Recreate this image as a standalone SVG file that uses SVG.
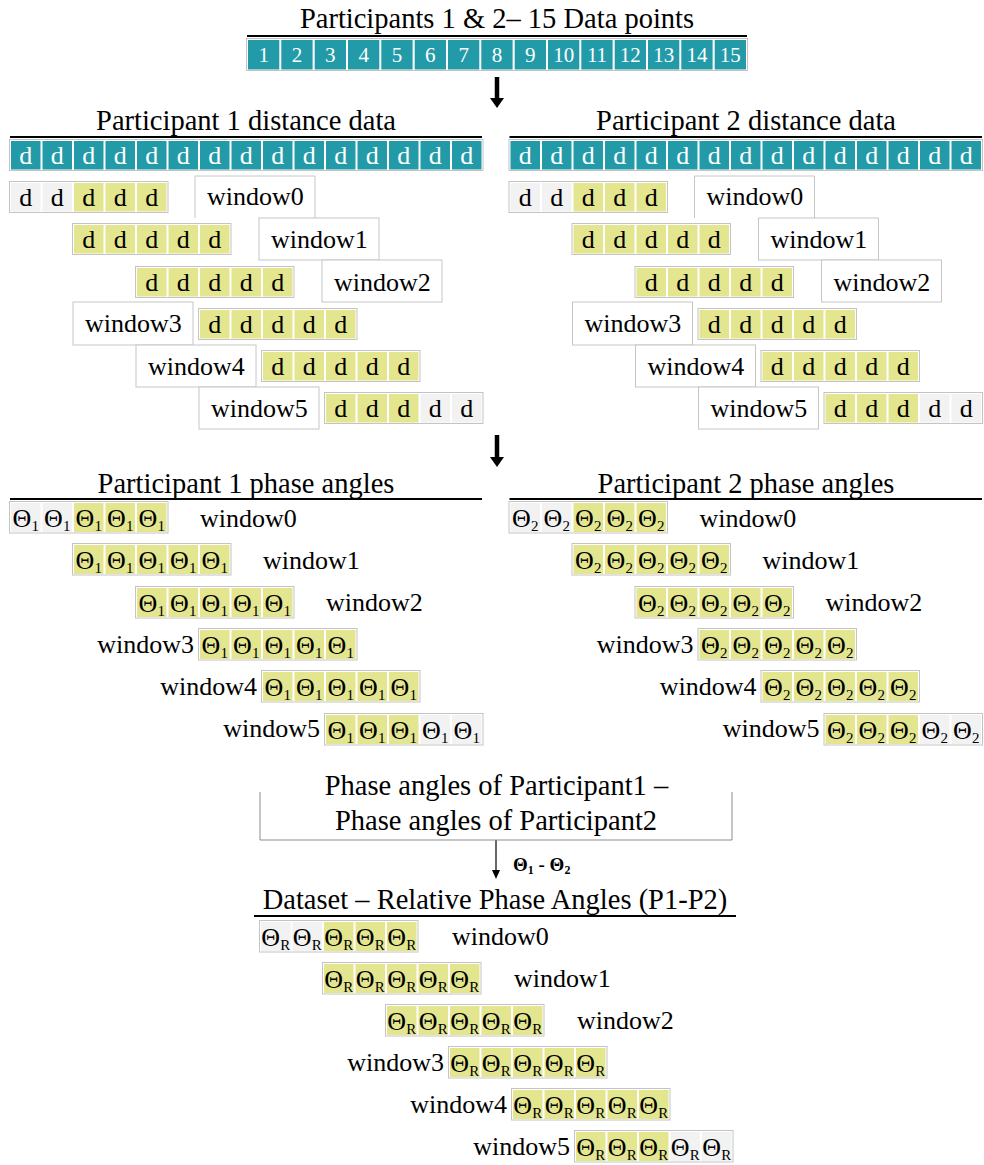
<svg xmlns="http://www.w3.org/2000/svg" width="984" height="1165" viewBox="0 0 984 1165">
<style>
text{font-family:"Liberation Serif","Times New Roman",serif;fill:#000}
.tt{font-size:28.5px;text-anchor:middle}
.lb{font-size:26px}
.le{font-size:26px;text-anchor:end}
.cd{font-size:26px;text-anchor:middle}
.cw{font-size:26px;text-anchor:middle;fill:#fff}
.cn{font-size:21px;text-anchor:middle;fill:#fff}
.th{font-size:26px;text-anchor:middle}
.sb{font-size:15px}
.eq{font-size:19px;font-weight:bold}
.eqs{font-size:12px}
.row{fill:#fff;stroke:#c4c4c4;stroke-width:1}
.y{fill:#e3e68f}
.g{fill:#f2f2f2}
.t{fill:#229aa8}
.wb{fill:#fff;stroke:#c6c6c6;stroke-width:1}
.ul{stroke:#000;stroke-width:2}
.br{fill:none;stroke:#8c8c8c;stroke-width:1}
</style>
<defs>
<marker id="ah" markerUnits="userSpaceOnUse" markerWidth="14" markerHeight="14" viewBox="0 0 10 14" refX="0" refY="7" orient="auto"><path d="M0,0 L10,7 L0,14 z" fill="#000"/></marker>
<marker id="ah2" markerUnits="userSpaceOnUse" markerWidth="9" markerHeight="8" viewBox="0 0 9 8" refX="0" refY="4" orient="auto"><path d="M0,0 L9,4 L0,8 z" fill="#000"/></marker>
</defs>

<g id="header">
<text class="tt" x="497" y="28">Participants 1 &amp; 2– 15 Data points</text>
<line class="ul" x1="247" y1="36" x2="747" y2="36"/>
<rect class="row" x="246.5" y="38.5" width="501" height="32"/>
<rect class="t" x="248" y="40" width="31.3" height="29.5"/><rect class="t" x="281.3" y="40" width="31.3" height="29.5"/><rect class="t" x="314.7" y="40" width="31.3" height="29.5"/><rect class="t" x="348" y="40" width="31.3" height="29.5"/><rect class="t" x="381.3" y="40" width="31.3" height="29.5"/><rect class="t" x="414.7" y="40" width="31.3" height="29.5"/><rect class="t" x="448" y="40" width="31.3" height="29.5"/><rect class="t" x="481.3" y="40" width="31.3" height="29.5"/><rect class="t" x="514.7" y="40" width="31.3" height="29.5"/><rect class="t" x="548" y="40" width="31.3" height="29.5"/><rect class="t" x="581.3" y="40" width="31.3" height="29.5"/><rect class="t" x="614.7" y="40" width="31.3" height="29.5"/><rect class="t" x="648" y="40" width="31.3" height="29.5"/><rect class="t" x="681.3" y="40" width="31.3" height="29.5"/><rect class="t" x="714.7" y="40" width="31.3" height="29.5"/>
<text class="cn" x="263.67" y="62">1</text><text class="cn" x="297" y="62">2</text><text class="cn" x="330.33" y="62">3</text><text class="cn" x="363.67" y="62">4</text><text class="cn" x="397" y="62">5</text><text class="cn" x="430.33" y="62">6</text><text class="cn" x="463.67" y="62">7</text><text class="cn" x="497" y="62">8</text><text class="cn" x="530.33" y="62">9</text><text class="cn" x="563.67" y="62">10</text><text class="cn" x="597" y="62">11</text><text class="cn" x="630.33" y="62">12</text><text class="cn" x="663.67" y="62">13</text><text class="cn" x="697" y="62">14</text><text class="cn" x="730.33" y="62">15</text>
</g>

<g id="connectors">
<line x1="497" y1="77" x2="497" y2="98" stroke="#000" stroke-width="4.5" marker-end="url(#ah)"/>
<line x1="497" y1="435" x2="497" y2="457" stroke="#000" stroke-width="4.5" marker-end="url(#ah)"/>
<line x1="496" y1="840" x2="496" y2="870" stroke="#000" stroke-width="1.2" marker-end="url(#ah2)"/>
<text class="eq" x="513" y="871">Θ<tspan class="eqs" dy="3">1</tspan><tspan dy="-3"> - Θ</tspan><tspan class="eqs" dy="3">2</tspan></text>
</g>

<!-- Participant 1 distance data -->
<g id="p1-distance">
<text class="tt" x="246" y="130">Participant 1 distance data</text>
<line class="ul" x1="10" y1="137" x2="482" y2="137"/>
<g transform="translate(10,140)">
<rect class="row" x="-0.5" y="-0.5" width="473.5" height="31"/>
<rect class="t" x="1" y="1" width="29.5" height="28.5"/><rect class="t" x="32.5" y="1" width="29.5" height="28.5"/><rect class="t" x="64" y="1" width="29.5" height="28.5"/><rect class="t" x="95.5" y="1" width="29.5" height="28.5"/><rect class="t" x="127" y="1" width="29.5" height="28.5"/><rect class="t" x="158.5" y="1" width="29.5" height="28.5"/><rect class="t" x="190" y="1" width="29.5" height="28.5"/><rect class="t" x="221.5" y="1" width="29.5" height="28.5"/><rect class="t" x="253" y="1" width="29.5" height="28.5"/><rect class="t" x="284.5" y="1" width="29.5" height="28.5"/><rect class="t" x="316" y="1" width="29.5" height="28.5"/><rect class="t" x="347.5" y="1" width="29.5" height="28.5"/><rect class="t" x="379" y="1" width="29.5" height="28.5"/><rect class="t" x="410.5" y="1" width="29.5" height="28.5"/><rect class="t" x="442" y="1" width="29.5" height="28.5"/>
<text class="cw" x="15.75" y="24">d</text><text class="cw" x="47.25" y="24">d</text><text class="cw" x="78.75" y="24">d</text><text class="cw" x="110.25" y="24">d</text><text class="cw" x="141.75" y="24">d</text><text class="cw" x="173.25" y="24">d</text><text class="cw" x="204.75" y="24">d</text><text class="cw" x="236.25" y="24">d</text><text class="cw" x="267.75" y="24">d</text><text class="cw" x="299.25" y="24">d</text><text class="cw" x="330.75" y="24">d</text><text class="cw" x="362.25" y="24">d</text><text class="cw" x="393.75" y="24">d</text><text class="cw" x="425.25" y="24">d</text><text class="cw" x="456.75" y="24">d</text>
</g>
<path class="wb" d="M195,218 V176 H315 V218"/>
<rect class="wb" x="259" y="218" width="120" height="42"/>
<rect class="wb" x="322" y="260" width="120" height="42"/>
<rect class="wb" x="73" y="302" width="120" height="43"/>
<rect class="wb" x="136" y="345" width="120" height="42"/>
<rect class="wb" x="199" y="387" width="120" height="42"/>
<text class="lb" x="207" y="205">window0</text>
<text class="lb" x="271" y="248">window1</text>
<text class="lb" x="334" y="291">window2</text>
<text class="lb" x="85" y="332">window3</text>
<text class="lb" x="148" y="375">window4</text>
<text class="lb" x="211" y="417">window5</text>
<g transform="translate(10,182)"><rect class="row" x="-0.5" y="-0.5" width="158.5" height="31"/><rect class="g" x="1" y="1" width="29.5" height="28.5"/><rect class="g" x="32.5" y="1" width="29.5" height="28.5"/><rect class="y" x="64" y="1" width="29.5" height="28.5"/><rect class="y" x="95.5" y="1" width="29.5" height="28.5"/><rect class="y" x="127" y="1" width="29.5" height="28.5"/><text class="cd" x="15.75" y="24">d</text><text class="cd" x="47.25" y="24">d</text><text class="cd" x="78.75" y="24">d</text><text class="cd" x="110.25" y="24">d</text><text class="cd" x="141.75" y="24">d</text></g>
<g transform="translate(73,224)"><rect class="row" x="-0.5" y="-0.5" width="158.5" height="31"/><rect class="y" x="1" y="1" width="29.5" height="28.5"/><rect class="y" x="32.5" y="1" width="29.5" height="28.5"/><rect class="y" x="64" y="1" width="29.5" height="28.5"/><rect class="y" x="95.5" y="1" width="29.5" height="28.5"/><rect class="y" x="127" y="1" width="29.5" height="28.5"/><text class="cd" x="15.75" y="24">d</text><text class="cd" x="47.25" y="24">d</text><text class="cd" x="78.75" y="24">d</text><text class="cd" x="110.25" y="24">d</text><text class="cd" x="141.75" y="24">d</text></g>
<g transform="translate(136,267)"><rect class="row" x="-0.5" y="-0.5" width="158.5" height="31"/><rect class="y" x="1" y="1" width="29.5" height="28.5"/><rect class="y" x="32.5" y="1" width="29.5" height="28.5"/><rect class="y" x="64" y="1" width="29.5" height="28.5"/><rect class="y" x="95.5" y="1" width="29.5" height="28.5"/><rect class="y" x="127" y="1" width="29.5" height="28.5"/><text class="cd" x="15.75" y="24">d</text><text class="cd" x="47.25" y="24">d</text><text class="cd" x="78.75" y="24">d</text><text class="cd" x="110.25" y="24">d</text><text class="cd" x="141.75" y="24">d</text></g>
<g transform="translate(199,309)"><rect class="row" x="-0.5" y="-0.5" width="158.5" height="31"/><rect class="y" x="1" y="1" width="29.5" height="28.5"/><rect class="y" x="32.5" y="1" width="29.5" height="28.5"/><rect class="y" x="64" y="1" width="29.5" height="28.5"/><rect class="y" x="95.5" y="1" width="29.5" height="28.5"/><rect class="y" x="127" y="1" width="29.5" height="28.5"/><text class="cd" x="15.75" y="24">d</text><text class="cd" x="47.25" y="24">d</text><text class="cd" x="78.75" y="24">d</text><text class="cd" x="110.25" y="24">d</text><text class="cd" x="141.75" y="24">d</text></g>
<g transform="translate(262,351)"><rect class="row" x="-0.5" y="-0.5" width="158.5" height="31"/><rect class="y" x="1" y="1" width="29.5" height="28.5"/><rect class="y" x="32.5" y="1" width="29.5" height="28.5"/><rect class="y" x="64" y="1" width="29.5" height="28.5"/><rect class="y" x="95.5" y="1" width="29.5" height="28.5"/><rect class="y" x="127" y="1" width="29.5" height="28.5"/><text class="cd" x="15.75" y="24">d</text><text class="cd" x="47.25" y="24">d</text><text class="cd" x="78.75" y="24">d</text><text class="cd" x="110.25" y="24">d</text><text class="cd" x="141.75" y="24">d</text></g>
<g transform="translate(325,393)"><rect class="row" x="-0.5" y="-0.5" width="158.5" height="31"/><rect class="y" x="1" y="1" width="29.5" height="28.5"/><rect class="y" x="32.5" y="1" width="29.5" height="28.5"/><rect class="y" x="64" y="1" width="29.5" height="28.5"/><rect class="g" x="95.5" y="1" width="29.5" height="28.5"/><rect class="g" x="127" y="1" width="29.5" height="28.5"/><text class="cd" x="15.75" y="24">d</text><text class="cd" x="47.25" y="24">d</text><text class="cd" x="78.75" y="24">d</text><text class="cd" x="110.25" y="24">d</text><text class="cd" x="141.75" y="24">d</text></g>
</g>

<!-- Participant 2 distance data -->
<g id="p2-distance">
<text class="tt" x="746" y="130">Participant 2 distance data</text>
<line class="ul" x1="509.5" y1="137" x2="982" y2="137"/>
<g transform="translate(509.5,140)">
<rect class="row" x="-0.5" y="-0.5" width="473.5" height="31"/>
<rect class="t" x="1" y="1" width="29.5" height="28.5"/><rect class="t" x="32.5" y="1" width="29.5" height="28.5"/><rect class="t" x="64" y="1" width="29.5" height="28.5"/><rect class="t" x="95.5" y="1" width="29.5" height="28.5"/><rect class="t" x="127" y="1" width="29.5" height="28.5"/><rect class="t" x="158.5" y="1" width="29.5" height="28.5"/><rect class="t" x="190" y="1" width="29.5" height="28.5"/><rect class="t" x="221.5" y="1" width="29.5" height="28.5"/><rect class="t" x="253" y="1" width="29.5" height="28.5"/><rect class="t" x="284.5" y="1" width="29.5" height="28.5"/><rect class="t" x="316" y="1" width="29.5" height="28.5"/><rect class="t" x="347.5" y="1" width="29.5" height="28.5"/><rect class="t" x="379" y="1" width="29.5" height="28.5"/><rect class="t" x="410.5" y="1" width="29.5" height="28.5"/><rect class="t" x="442" y="1" width="29.5" height="28.5"/>
<text class="cw" x="15.75" y="24">d</text><text class="cw" x="47.25" y="24">d</text><text class="cw" x="78.75" y="24">d</text><text class="cw" x="110.25" y="24">d</text><text class="cw" x="141.75" y="24">d</text><text class="cw" x="173.25" y="24">d</text><text class="cw" x="204.75" y="24">d</text><text class="cw" x="236.25" y="24">d</text><text class="cw" x="267.75" y="24">d</text><text class="cw" x="299.25" y="24">d</text><text class="cw" x="330.75" y="24">d</text><text class="cw" x="362.25" y="24">d</text><text class="cw" x="393.75" y="24">d</text><text class="cw" x="425.25" y="24">d</text><text class="cw" x="456.75" y="24">d</text>
</g>
<path class="wb" d="M694.5,218 V176 H814.5 V218"/>
<rect class="wb" x="758.5" y="218" width="120" height="42"/>
<rect class="wb" x="821.5" y="260" width="120" height="42"/>
<rect class="wb" x="572.5" y="302" width="120" height="43"/>
<rect class="wb" x="635.5" y="345" width="120" height="42"/>
<rect class="wb" x="698.5" y="387" width="120" height="42"/>
<text class="lb" x="706.5" y="205">window0</text>
<text class="lb" x="770.5" y="248">window1</text>
<text class="lb" x="833.5" y="291">window2</text>
<text class="lb" x="584.5" y="332">window3</text>
<text class="lb" x="647.5" y="375">window4</text>
<text class="lb" x="710.5" y="417">window5</text>
<g transform="translate(509.5,182)"><rect class="row" x="-0.5" y="-0.5" width="158.5" height="31"/><rect class="g" x="1" y="1" width="29.5" height="28.5"/><rect class="g" x="32.5" y="1" width="29.5" height="28.5"/><rect class="y" x="64" y="1" width="29.5" height="28.5"/><rect class="y" x="95.5" y="1" width="29.5" height="28.5"/><rect class="y" x="127" y="1" width="29.5" height="28.5"/><text class="cd" x="15.75" y="24">d</text><text class="cd" x="47.25" y="24">d</text><text class="cd" x="78.75" y="24">d</text><text class="cd" x="110.25" y="24">d</text><text class="cd" x="141.75" y="24">d</text></g>
<g transform="translate(572.5,224)"><rect class="row" x="-0.5" y="-0.5" width="158.5" height="31"/><rect class="y" x="1" y="1" width="29.5" height="28.5"/><rect class="y" x="32.5" y="1" width="29.5" height="28.5"/><rect class="y" x="64" y="1" width="29.5" height="28.5"/><rect class="y" x="95.5" y="1" width="29.5" height="28.5"/><rect class="y" x="127" y="1" width="29.5" height="28.5"/><text class="cd" x="15.75" y="24">d</text><text class="cd" x="47.25" y="24">d</text><text class="cd" x="78.75" y="24">d</text><text class="cd" x="110.25" y="24">d</text><text class="cd" x="141.75" y="24">d</text></g>
<g transform="translate(635.5,267)"><rect class="row" x="-0.5" y="-0.5" width="158.5" height="31"/><rect class="y" x="1" y="1" width="29.5" height="28.5"/><rect class="y" x="32.5" y="1" width="29.5" height="28.5"/><rect class="y" x="64" y="1" width="29.5" height="28.5"/><rect class="y" x="95.5" y="1" width="29.5" height="28.5"/><rect class="y" x="127" y="1" width="29.5" height="28.5"/><text class="cd" x="15.75" y="24">d</text><text class="cd" x="47.25" y="24">d</text><text class="cd" x="78.75" y="24">d</text><text class="cd" x="110.25" y="24">d</text><text class="cd" x="141.75" y="24">d</text></g>
<g transform="translate(698.5,309)"><rect class="row" x="-0.5" y="-0.5" width="158.5" height="31"/><rect class="y" x="1" y="1" width="29.5" height="28.5"/><rect class="y" x="32.5" y="1" width="29.5" height="28.5"/><rect class="y" x="64" y="1" width="29.5" height="28.5"/><rect class="y" x="95.5" y="1" width="29.5" height="28.5"/><rect class="y" x="127" y="1" width="29.5" height="28.5"/><text class="cd" x="15.75" y="24">d</text><text class="cd" x="47.25" y="24">d</text><text class="cd" x="78.75" y="24">d</text><text class="cd" x="110.25" y="24">d</text><text class="cd" x="141.75" y="24">d</text></g>
<g transform="translate(761.5,351)"><rect class="row" x="-0.5" y="-0.5" width="158.5" height="31"/><rect class="y" x="1" y="1" width="29.5" height="28.5"/><rect class="y" x="32.5" y="1" width="29.5" height="28.5"/><rect class="y" x="64" y="1" width="29.5" height="28.5"/><rect class="y" x="95.5" y="1" width="29.5" height="28.5"/><rect class="y" x="127" y="1" width="29.5" height="28.5"/><text class="cd" x="15.75" y="24">d</text><text class="cd" x="47.25" y="24">d</text><text class="cd" x="78.75" y="24">d</text><text class="cd" x="110.25" y="24">d</text><text class="cd" x="141.75" y="24">d</text></g>
<g transform="translate(824.5,393)"><rect class="row" x="-0.5" y="-0.5" width="158.5" height="31"/><rect class="y" x="1" y="1" width="29.5" height="28.5"/><rect class="y" x="32.5" y="1" width="29.5" height="28.5"/><rect class="y" x="64" y="1" width="29.5" height="28.5"/><rect class="g" x="95.5" y="1" width="29.5" height="28.5"/><rect class="g" x="127" y="1" width="29.5" height="28.5"/><text class="cd" x="15.75" y="24">d</text><text class="cd" x="47.25" y="24">d</text><text class="cd" x="78.75" y="24">d</text><text class="cd" x="110.25" y="24">d</text><text class="cd" x="141.75" y="24">d</text></g>
</g>

<!-- Participant 1 phase angles -->
<g id="p1-phase">
<text class="tt" x="246" y="493">Participant 1 phase angles</text>
<line class="ul" x1="10" y1="499" x2="482" y2="499"/>
<text class="lb" x="200" y="527">window0</text>
<text class="lb" x="263" y="569">window1</text>
<text class="lb" x="326" y="611">window2</text>
<text class="le" x="194" y="653">window3</text>
<text class="le" x="257" y="695">window4</text>
<text class="le" x="320" y="737">window5</text>
<g transform="translate(10,502)"><rect class="row" x="-0.5" y="-0.5" width="158.5" height="31.5"/><rect class="g" x="1" y="1" width="29.5" height="29"/><rect class="g" x="32.5" y="1" width="29.5" height="29"/><rect class="y" x="64" y="1" width="29.5" height="29"/><rect class="y" x="95.5" y="1" width="29.5" height="29"/><rect class="y" x="127" y="1" width="29.5" height="29"/><text class="th" x="15.75" y="24.5">Θ<tspan class="sb" dy="4">1</tspan></text><text class="th" x="47.25" y="24.5">Θ<tspan class="sb" dy="4">1</tspan></text><text class="th" x="78.75" y="24.5">Θ<tspan class="sb" dy="4">1</tspan></text><text class="th" x="110.25" y="24.5">Θ<tspan class="sb" dy="4">1</tspan></text><text class="th" x="141.75" y="24.5">Θ<tspan class="sb" dy="4">1</tspan></text></g>
<g transform="translate(73,544)"><rect class="row" x="-0.5" y="-0.5" width="158.5" height="31.5"/><rect class="y" x="1" y="1" width="29.5" height="29"/><rect class="y" x="32.5" y="1" width="29.5" height="29"/><rect class="y" x="64" y="1" width="29.5" height="29"/><rect class="y" x="95.5" y="1" width="29.5" height="29"/><rect class="y" x="127" y="1" width="29.5" height="29"/><text class="th" x="15.75" y="24.5">Θ<tspan class="sb" dy="4">1</tspan></text><text class="th" x="47.25" y="24.5">Θ<tspan class="sb" dy="4">1</tspan></text><text class="th" x="78.75" y="24.5">Θ<tspan class="sb" dy="4">1</tspan></text><text class="th" x="110.25" y="24.5">Θ<tspan class="sb" dy="4">1</tspan></text><text class="th" x="141.75" y="24.5">Θ<tspan class="sb" dy="4">1</tspan></text></g>
<g transform="translate(136,587)"><rect class="row" x="-0.5" y="-0.5" width="158.5" height="31.5"/><rect class="y" x="1" y="1" width="29.5" height="29"/><rect class="y" x="32.5" y="1" width="29.5" height="29"/><rect class="y" x="64" y="1" width="29.5" height="29"/><rect class="y" x="95.5" y="1" width="29.5" height="29"/><rect class="y" x="127" y="1" width="29.5" height="29"/><text class="th" x="15.75" y="24.5">Θ<tspan class="sb" dy="4">1</tspan></text><text class="th" x="47.25" y="24.5">Θ<tspan class="sb" dy="4">1</tspan></text><text class="th" x="78.75" y="24.5">Θ<tspan class="sb" dy="4">1</tspan></text><text class="th" x="110.25" y="24.5">Θ<tspan class="sb" dy="4">1</tspan></text><text class="th" x="141.75" y="24.5">Θ<tspan class="sb" dy="4">1</tspan></text></g>
<g transform="translate(199,629)"><rect class="row" x="-0.5" y="-0.5" width="158.5" height="31.5"/><rect class="y" x="1" y="1" width="29.5" height="29"/><rect class="y" x="32.5" y="1" width="29.5" height="29"/><rect class="y" x="64" y="1" width="29.5" height="29"/><rect class="y" x="95.5" y="1" width="29.5" height="29"/><rect class="y" x="127" y="1" width="29.5" height="29"/><text class="th" x="15.75" y="24.5">Θ<tspan class="sb" dy="4">1</tspan></text><text class="th" x="47.25" y="24.5">Θ<tspan class="sb" dy="4">1</tspan></text><text class="th" x="78.75" y="24.5">Θ<tspan class="sb" dy="4">1</tspan></text><text class="th" x="110.25" y="24.5">Θ<tspan class="sb" dy="4">1</tspan></text><text class="th" x="141.75" y="24.5">Θ<tspan class="sb" dy="4">1</tspan></text></g>
<g transform="translate(262,671)"><rect class="row" x="-0.5" y="-0.5" width="158.5" height="31.5"/><rect class="y" x="1" y="1" width="29.5" height="29"/><rect class="y" x="32.5" y="1" width="29.5" height="29"/><rect class="y" x="64" y="1" width="29.5" height="29"/><rect class="y" x="95.5" y="1" width="29.5" height="29"/><rect class="y" x="127" y="1" width="29.5" height="29"/><text class="th" x="15.75" y="24.5">Θ<tspan class="sb" dy="4">1</tspan></text><text class="th" x="47.25" y="24.5">Θ<tspan class="sb" dy="4">1</tspan></text><text class="th" x="78.75" y="24.5">Θ<tspan class="sb" dy="4">1</tspan></text><text class="th" x="110.25" y="24.5">Θ<tspan class="sb" dy="4">1</tspan></text><text class="th" x="141.75" y="24.5">Θ<tspan class="sb" dy="4">1</tspan></text></g>
<g transform="translate(325,714)"><rect class="row" x="-0.5" y="-0.5" width="158.5" height="31.5"/><rect class="y" x="1" y="1" width="29.5" height="29"/><rect class="y" x="32.5" y="1" width="29.5" height="29"/><rect class="y" x="64" y="1" width="29.5" height="29"/><rect class="g" x="95.5" y="1" width="29.5" height="29"/><rect class="g" x="127" y="1" width="29.5" height="29"/><text class="th" x="15.75" y="24.5">Θ<tspan class="sb" dy="4">1</tspan></text><text class="th" x="47.25" y="24.5">Θ<tspan class="sb" dy="4">1</tspan></text><text class="th" x="78.75" y="24.5">Θ<tspan class="sb" dy="4">1</tspan></text><text class="th" x="110.25" y="24.5">Θ<tspan class="sb" dy="4">1</tspan></text><text class="th" x="141.75" y="24.5">Θ<tspan class="sb" dy="4">1</tspan></text></g>
</g>

<!-- Participant 2 phase angles -->
<g id="p2-phase">
<text class="tt" x="746" y="493">Participant 2 phase angles</text>
<line class="ul" x1="509.5" y1="499" x2="982" y2="499"/>
<text class="lb" x="699.5" y="527">window0</text>
<text class="lb" x="762.5" y="569">window1</text>
<text class="lb" x="825.5" y="611">window2</text>
<text class="le" x="693.5" y="653">window3</text>
<text class="le" x="756.5" y="695">window4</text>
<text class="le" x="819.5" y="737">window5</text>
<g transform="translate(509.5,502)"><rect class="row" x="-0.5" y="-0.5" width="158.5" height="31.5"/><rect class="g" x="1" y="1" width="29.5" height="29"/><rect class="g" x="32.5" y="1" width="29.5" height="29"/><rect class="y" x="64" y="1" width="29.5" height="29"/><rect class="y" x="95.5" y="1" width="29.5" height="29"/><rect class="y" x="127" y="1" width="29.5" height="29"/><text class="th" x="15.75" y="24.5">Θ<tspan class="sb" dy="4">2</tspan></text><text class="th" x="47.25" y="24.5">Θ<tspan class="sb" dy="4">2</tspan></text><text class="th" x="78.75" y="24.5">Θ<tspan class="sb" dy="4">2</tspan></text><text class="th" x="110.25" y="24.5">Θ<tspan class="sb" dy="4">2</tspan></text><text class="th" x="141.75" y="24.5">Θ<tspan class="sb" dy="4">2</tspan></text></g>
<g transform="translate(572.5,544)"><rect class="row" x="-0.5" y="-0.5" width="158.5" height="31.5"/><rect class="y" x="1" y="1" width="29.5" height="29"/><rect class="y" x="32.5" y="1" width="29.5" height="29"/><rect class="y" x="64" y="1" width="29.5" height="29"/><rect class="y" x="95.5" y="1" width="29.5" height="29"/><rect class="y" x="127" y="1" width="29.5" height="29"/><text class="th" x="15.75" y="24.5">Θ<tspan class="sb" dy="4">2</tspan></text><text class="th" x="47.25" y="24.5">Θ<tspan class="sb" dy="4">2</tspan></text><text class="th" x="78.75" y="24.5">Θ<tspan class="sb" dy="4">2</tspan></text><text class="th" x="110.25" y="24.5">Θ<tspan class="sb" dy="4">2</tspan></text><text class="th" x="141.75" y="24.5">Θ<tspan class="sb" dy="4">2</tspan></text></g>
<g transform="translate(635.5,587)"><rect class="row" x="-0.5" y="-0.5" width="158.5" height="31.5"/><rect class="y" x="1" y="1" width="29.5" height="29"/><rect class="y" x="32.5" y="1" width="29.5" height="29"/><rect class="y" x="64" y="1" width="29.5" height="29"/><rect class="y" x="95.5" y="1" width="29.5" height="29"/><rect class="y" x="127" y="1" width="29.5" height="29"/><text class="th" x="15.75" y="24.5">Θ<tspan class="sb" dy="4">2</tspan></text><text class="th" x="47.25" y="24.5">Θ<tspan class="sb" dy="4">2</tspan></text><text class="th" x="78.75" y="24.5">Θ<tspan class="sb" dy="4">2</tspan></text><text class="th" x="110.25" y="24.5">Θ<tspan class="sb" dy="4">2</tspan></text><text class="th" x="141.75" y="24.5">Θ<tspan class="sb" dy="4">2</tspan></text></g>
<g transform="translate(698.5,629)"><rect class="row" x="-0.5" y="-0.5" width="158.5" height="31.5"/><rect class="y" x="1" y="1" width="29.5" height="29"/><rect class="y" x="32.5" y="1" width="29.5" height="29"/><rect class="y" x="64" y="1" width="29.5" height="29"/><rect class="y" x="95.5" y="1" width="29.5" height="29"/><rect class="y" x="127" y="1" width="29.5" height="29"/><text class="th" x="15.75" y="24.5">Θ<tspan class="sb" dy="4">2</tspan></text><text class="th" x="47.25" y="24.5">Θ<tspan class="sb" dy="4">2</tspan></text><text class="th" x="78.75" y="24.5">Θ<tspan class="sb" dy="4">2</tspan></text><text class="th" x="110.25" y="24.5">Θ<tspan class="sb" dy="4">2</tspan></text><text class="th" x="141.75" y="24.5">Θ<tspan class="sb" dy="4">2</tspan></text></g>
<g transform="translate(761.5,671)"><rect class="row" x="-0.5" y="-0.5" width="158.5" height="31.5"/><rect class="y" x="1" y="1" width="29.5" height="29"/><rect class="y" x="32.5" y="1" width="29.5" height="29"/><rect class="y" x="64" y="1" width="29.5" height="29"/><rect class="y" x="95.5" y="1" width="29.5" height="29"/><rect class="y" x="127" y="1" width="29.5" height="29"/><text class="th" x="15.75" y="24.5">Θ<tspan class="sb" dy="4">2</tspan></text><text class="th" x="47.25" y="24.5">Θ<tspan class="sb" dy="4">2</tspan></text><text class="th" x="78.75" y="24.5">Θ<tspan class="sb" dy="4">2</tspan></text><text class="th" x="110.25" y="24.5">Θ<tspan class="sb" dy="4">2</tspan></text><text class="th" x="141.75" y="24.5">Θ<tspan class="sb" dy="4">2</tspan></text></g>
<g transform="translate(824.5,714)"><rect class="row" x="-0.5" y="-0.5" width="158.5" height="31.5"/><rect class="y" x="1" y="1" width="29.5" height="29"/><rect class="y" x="32.5" y="1" width="29.5" height="29"/><rect class="y" x="64" y="1" width="29.5" height="29"/><rect class="g" x="95.5" y="1" width="29.5" height="29"/><rect class="g" x="127" y="1" width="29.5" height="29"/><text class="th" x="15.75" y="24.5">Θ<tspan class="sb" dy="4">2</tspan></text><text class="th" x="47.25" y="24.5">Θ<tspan class="sb" dy="4">2</tspan></text><text class="th" x="78.75" y="24.5">Θ<tspan class="sb" dy="4">2</tspan></text><text class="th" x="110.25" y="24.5">Θ<tspan class="sb" dy="4">2</tspan></text><text class="th" x="141.75" y="24.5">Θ<tspan class="sb" dy="4">2</tspan></text></g>
</g>

<!-- Difference box -->
<g id="difference">
<path class="br" d="M260,792 V840 H732 V792"/>
<text class="tt" x="496.5" y="795">Phase angles of Participant1 –</text>
<text class="tt" x="496" y="830">Phase angles of Participant2</text>
</g>

<!-- Relative phase dataset -->
<g id="dataset">
<text class="tt" x="495" y="909">Dataset – Relative Phase Angles (P1-P2)</text>
<line class="ul" x1="254" y1="916" x2="736" y2="916"/>
<text class="lb" x="452" y="945">window0</text>
<text class="lb" x="514" y="987">window1</text>
<text class="lb" x="577" y="1029">window2</text>
<text class="le" x="444" y="1071">window3</text>
<text class="le" x="507" y="1113">window4</text>
<text class="le" x="570" y="1155">window5</text>
<g transform="translate(260,921)"><rect class="row" x="-0.5" y="-0.5" width="158.5" height="31.5"/><rect class="g" x="1" y="1" width="29.5" height="29"/><rect class="g" x="32.5" y="1" width="29.5" height="29"/><rect class="y" x="64" y="1" width="29.5" height="29"/><rect class="y" x="95.5" y="1" width="29.5" height="29"/><rect class="y" x="127" y="1" width="29.5" height="29"/><text class="th" x="15.75" y="24.5">Θ<tspan class="sb" dy="4">R</tspan></text><text class="th" x="47.25" y="24.5">Θ<tspan class="sb" dy="4">R</tspan></text><text class="th" x="78.75" y="24.5">Θ<tspan class="sb" dy="4">R</tspan></text><text class="th" x="110.25" y="24.5">Θ<tspan class="sb" dy="4">R</tspan></text><text class="th" x="141.75" y="24.5">Θ<tspan class="sb" dy="4">R</tspan></text></g>
<g transform="translate(323,963)"><rect class="row" x="-0.5" y="-0.5" width="158.5" height="31.5"/><rect class="y" x="1" y="1" width="29.5" height="29"/><rect class="y" x="32.5" y="1" width="29.5" height="29"/><rect class="y" x="64" y="1" width="29.5" height="29"/><rect class="y" x="95.5" y="1" width="29.5" height="29"/><rect class="y" x="127" y="1" width="29.5" height="29"/><text class="th" x="15.75" y="24.5">Θ<tspan class="sb" dy="4">R</tspan></text><text class="th" x="47.25" y="24.5">Θ<tspan class="sb" dy="4">R</tspan></text><text class="th" x="78.75" y="24.5">Θ<tspan class="sb" dy="4">R</tspan></text><text class="th" x="110.25" y="24.5">Θ<tspan class="sb" dy="4">R</tspan></text><text class="th" x="141.75" y="24.5">Θ<tspan class="sb" dy="4">R</tspan></text></g>
<g transform="translate(386,1005)"><rect class="row" x="-0.5" y="-0.5" width="158.5" height="31.5"/><rect class="y" x="1" y="1" width="29.5" height="29"/><rect class="y" x="32.5" y="1" width="29.5" height="29"/><rect class="y" x="64" y="1" width="29.5" height="29"/><rect class="y" x="95.5" y="1" width="29.5" height="29"/><rect class="y" x="127" y="1" width="29.5" height="29"/><text class="th" x="15.75" y="24.5">Θ<tspan class="sb" dy="4">R</tspan></text><text class="th" x="47.25" y="24.5">Θ<tspan class="sb" dy="4">R</tspan></text><text class="th" x="78.75" y="24.5">Θ<tspan class="sb" dy="4">R</tspan></text><text class="th" x="110.25" y="24.5">Θ<tspan class="sb" dy="4">R</tspan></text><text class="th" x="141.75" y="24.5">Θ<tspan class="sb" dy="4">R</tspan></text></g>
<g transform="translate(449,1047)"><rect class="row" x="-0.5" y="-0.5" width="158.5" height="31.5"/><rect class="y" x="1" y="1" width="29.5" height="29"/><rect class="y" x="32.5" y="1" width="29.5" height="29"/><rect class="y" x="64" y="1" width="29.5" height="29"/><rect class="y" x="95.5" y="1" width="29.5" height="29"/><rect class="y" x="127" y="1" width="29.5" height="29"/><text class="th" x="15.75" y="24.5">Θ<tspan class="sb" dy="4">R</tspan></text><text class="th" x="47.25" y="24.5">Θ<tspan class="sb" dy="4">R</tspan></text><text class="th" x="78.75" y="24.5">Θ<tspan class="sb" dy="4">R</tspan></text><text class="th" x="110.25" y="24.5">Θ<tspan class="sb" dy="4">R</tspan></text><text class="th" x="141.75" y="24.5">Θ<tspan class="sb" dy="4">R</tspan></text></g>
<g transform="translate(512,1089)"><rect class="row" x="-0.5" y="-0.5" width="158.5" height="31.5"/><rect class="y" x="1" y="1" width="29.5" height="29"/><rect class="y" x="32.5" y="1" width="29.5" height="29"/><rect class="y" x="64" y="1" width="29.5" height="29"/><rect class="y" x="95.5" y="1" width="29.5" height="29"/><rect class="y" x="127" y="1" width="29.5" height="29"/><text class="th" x="15.75" y="24.5">Θ<tspan class="sb" dy="4">R</tspan></text><text class="th" x="47.25" y="24.5">Θ<tspan class="sb" dy="4">R</tspan></text><text class="th" x="78.75" y="24.5">Θ<tspan class="sb" dy="4">R</tspan></text><text class="th" x="110.25" y="24.5">Θ<tspan class="sb" dy="4">R</tspan></text><text class="th" x="141.75" y="24.5">Θ<tspan class="sb" dy="4">R</tspan></text></g>
<g transform="translate(575,1131)"><rect class="row" x="-0.5" y="-0.5" width="158.5" height="31.5"/><rect class="y" x="1" y="1" width="29.5" height="29"/><rect class="y" x="32.5" y="1" width="29.5" height="29"/><rect class="y" x="64" y="1" width="29.5" height="29"/><rect class="g" x="95.5" y="1" width="29.5" height="29"/><rect class="g" x="127" y="1" width="29.5" height="29"/><text class="th" x="15.75" y="24.5">Θ<tspan class="sb" dy="4">R</tspan></text><text class="th" x="47.25" y="24.5">Θ<tspan class="sb" dy="4">R</tspan></text><text class="th" x="78.75" y="24.5">Θ<tspan class="sb" dy="4">R</tspan></text><text class="th" x="110.25" y="24.5">Θ<tspan class="sb" dy="4">R</tspan></text><text class="th" x="141.75" y="24.5">Θ<tspan class="sb" dy="4">R</tspan></text></g>
</g>
</svg>
